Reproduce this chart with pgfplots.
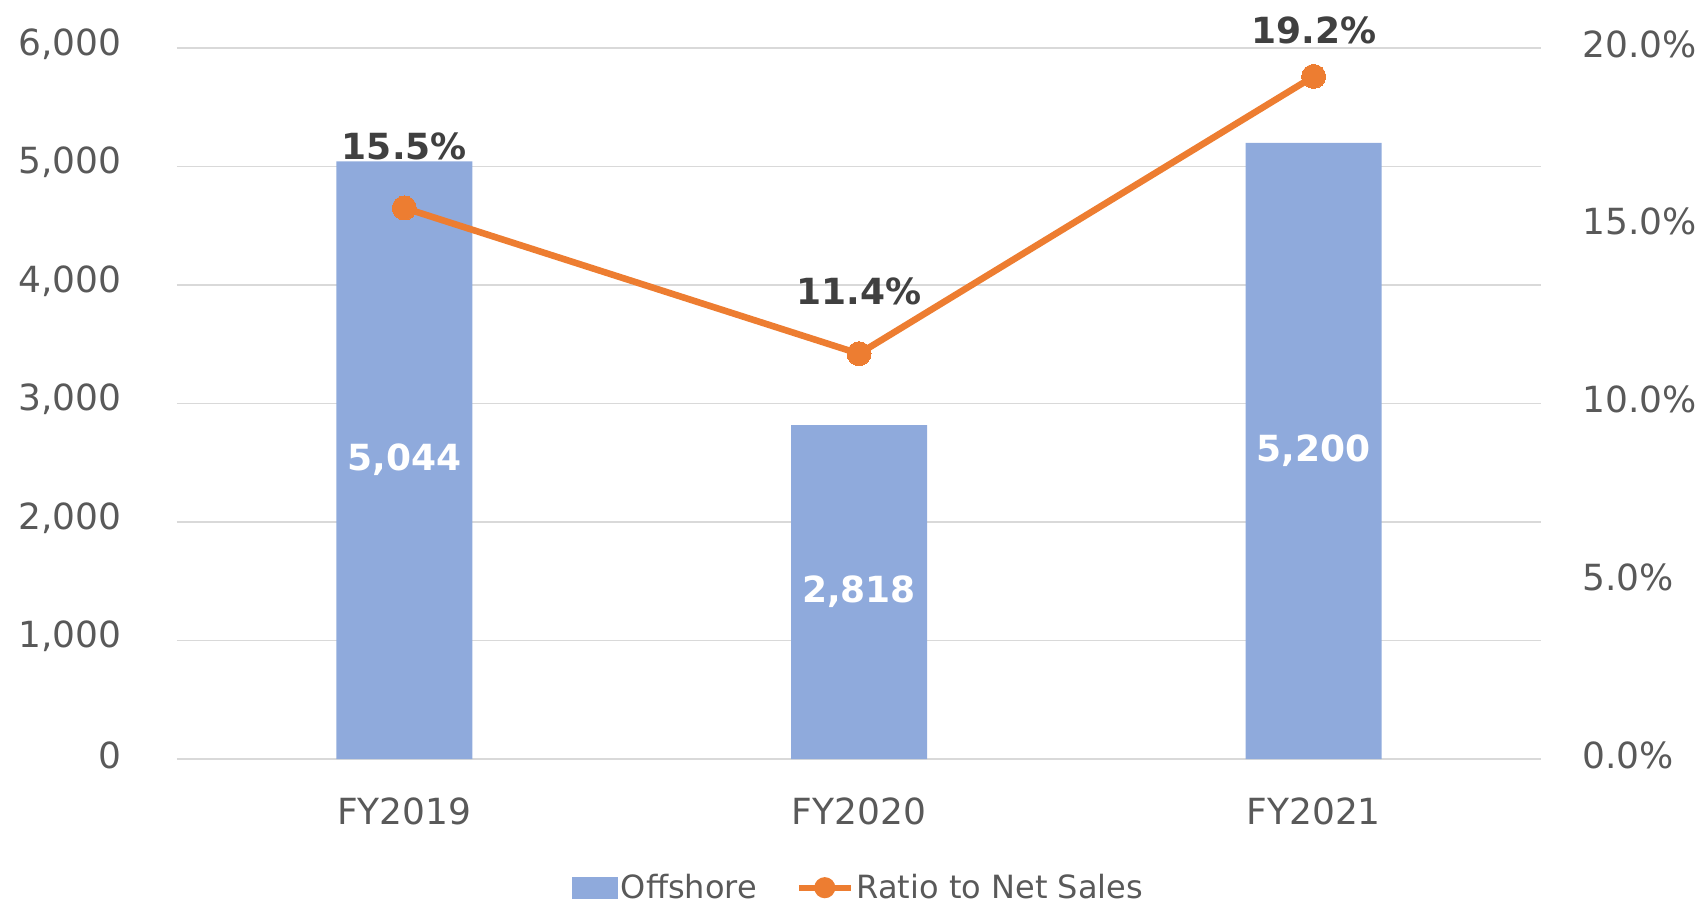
\documentclass[border=0pt]{standalone}
\usepackage{pgfplots}
\pgfplotsset{compat=1.18}
\usepackage{pgfplotstable}
\usepackage{fontspec}
\setmainfont{DejaVu Sans}
\definecolor{barblue}{HTML}{8FAADC}
\definecolor{lineorange}{HTML}{ED7D31}
\definecolor{txtgray}{HTML}{595959}
\definecolor{lblgray}{HTML}{404040}
\definecolor{gridgray}{HTML}{D9D9D9}

\pgfplotstableread{
x val
0 5044
1 2818
2 5200
}\offshore
\pgfplotstableread{
x ratio dy
0 15.5 31
1 11.4 31
2 19.2 23
}\ratiotab

\begin{document}
\begin{tikzpicture}
\useasboundingbox (-88.5pt,-72.5pt) rectangle (765pt,379.5pt);
\begin{axis}[
  at={(0pt,0pt)}, anchor=south west,
  scale only axis, width=682pt, height=355.5pt,
  xmin=-0.5, xmax=2.5, ymin=0, ymax=6000,
  xtick={0,1,2}, xticklabels={FY2019,FY2020,FY2021},
  ytick={0,1000,...,6000},
  axis line style={draw=none},
  major tick length=0pt,
  ymajorgrids, grid style={gridgray, line width=0.75pt},
  tick label style={font=\fontsize{18}{20}\selectfont, text=txtgray},
  yticklabel style={anchor=east, inner sep=0pt, xshift=-27.5pt, yshift=2pt},
  xticklabel style={anchor=north, inner sep=0pt, yshift=-19pt},
  /pgf/number format/assume math mode=true,
  /pgf/number format/1000 sep={,},
  clip=false,
]
\addplot[ybar, bar width=68pt, fill=barblue, draw=none,
  point meta=y,
  nodes near coords={\pgfmathprintnumber{\pgfplotspointmeta}},
  visualization depends on={y \as \rawy},
  every node near coord/.append style={anchor=center, inner sep=0pt,
    shift={(axis direction cs:0,-\rawy/2)},
    font=\fontsize{18}{20}\selectfont\bfseries, text=white},
] table[x=x, y=val] {\offshore};
\end{axis}
\begin{axis}[
  at={(0pt,0pt)}, anchor=south west,
  scale only axis, width=682pt, height=355.5pt,
  xmin=-0.5, xmax=2.5, ymin=0, ymax=20,
  axis x line=none, axis y line*=right,
  ytick={0,5,...,20},
  axis line style={draw=none},
  major tick length=0pt,
  tick label style={font=\fontsize{18}{20}\selectfont, text=txtgray},
  /pgf/number format/assume math mode=true,
  yticklabel={\pgfmathprintnumber[fixed,fixed zerofill,precision=1]{\tick}\%},
  yticklabel style={anchor=west, inner sep=0pt, xshift=20.5pt, yshift=2pt},
  clip=false,
  legend style={at={(0.5,-0.181)}, anchor=center, draw=none, fill=none,
    font=\fontsize{16}{18}\selectfont, text=txtgray,
    inner sep=0pt, nodes={inner sep=1.5pt}, legend cell align=left,
    /tikz/every even column/.style={column sep=18pt}},
  legend columns=2,
]
\addlegendimage{legend image code/.code={\fill[barblue] (0pt,-5.25pt) rectangle (22.5pt,5.25pt);}}
\addlegendentry{Offshore}
\addplot[lineorange, line width=3.3pt, mark=*, mark size=6pt,
  mark options={fill=lineorange, draw=lineorange, line width=0pt},
  point meta=y,
  nodes near coords={\pgfmathprintnumber[fixed,fixed zerofill,precision=1]{\pgfplotspointmeta}\%},
  visualization depends on={\thisrow{dy} \as \dy},
  every node near coord/.append style={anchor=center, inner sep=0pt, yshift=\dy*1pt,
    font=\fontsize{18}{20}\selectfont\bfseries, text=lblgray},
  legend image code/.code={\draw[lineorange, line width=3pt] (0pt,0pt) -- (26pt,0pt); \fill[lineorange] (13pt,0pt) circle (3.6pt);},
] table[x=x, y=ratio] {\ratiotab};
\addlegendentry{Ratio to Net Sales}
\end{axis}
\end{tikzpicture}
\end{document}
